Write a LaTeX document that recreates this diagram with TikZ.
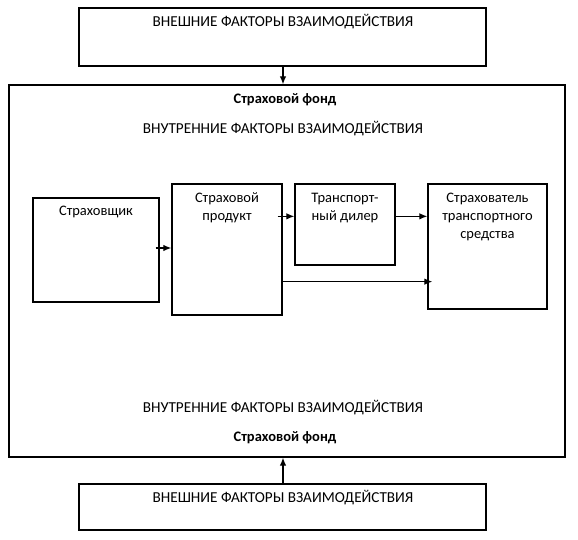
\documentclass[tikz,border=0pt]{standalone}
\usepackage{fontspec}
\setmainfont{Carlito}
\usetikzlibrary{arrows.meta}

\begin{document}
\begin{tikzpicture}[x=1pt,y=-1pt,
  box/.style={draw,line width=1.3pt,inner sep=0pt},
  lbl/.style={font=\fontsize{14.5}{18}\selectfont,align=center,inner sep=0pt},
  caps/.style={lbl,font=\fontsize{15.2}{18}\selectfont},
  arr/.style={line width=1.2pt,-{Latex[length=8pt,width=6.5pt]}}]
\path (0,0) rectangle (578,540);
\node[box,minimum width=407pt,minimum height=58pt] (extTop) at (282.5,37) {};
\node[box,minimum width=556pt,minimum height=372pt] (fund) at (287,271) {};
\node[box,minimum width=407pt,minimum height=46pt] (extBot) at (282.5,507) {};
\node[box,minimum width=126pt,minimum height=104pt] (insurer) at (96,250) {};
\node[box,minimum width=110pt,minimum height=131pt] (product) at (227,249.5) {};
\node[box,minimum width=100pt,minimum height=81pt] (dealer) at (345,224.5) {};
\node[box,minimum width=119pt,minimum height=125pt] (holder) at (487.5,246.5) {};
\node[caps] (extTopTxt) at (283,22) {ВНЕШНИЕ ФАКТОРЫ ВЗАИМОДЕЙСТВИЯ};
\node[caps] (extBotTxt) at (283,498) {ВНЕШНИЕ ФАКТОРЫ ВЗАИМОДЕЙСТВИЯ};
\node[lbl,font=\fontsize{14.5}{18}\selectfont\bfseries] (fundTop) at (285,100) {Страховой фонд};
\node[caps] (intTop) at (283,129) {ВНУТРЕННИЕ ФАКТОРЫ ВЗАИМОДЕЙСТВИЯ};
\node[caps] (intBot) at (283,408) {ВНУТРЕННИЕ ФАКТОРЫ ВЗАИМОДЕЙСТВИЯ};
\node[lbl,font=\fontsize{14.5}{18}\selectfont\bfseries] (fundBot) at (285,438) {Страховой фонд};
\node[lbl] (insurerTxt) at (96,212) {Страховщик};
\node[lbl] (productTxt) at (227,208) {Страховой\\продукт};
\node[lbl] (dealerTxt) at (345,208) {Транспорт-\\ный дилер};
\node[lbl] (holderTxt) at (487.5,217) {Страхователь\\транспортного\\средства};
\draw[arr] ([xshift=0.5pt]extTop.south) -- ([xshift=0.5pt]extTop.south |- fund.north);
\draw[arr] ([xshift=0.5pt]extBot.north) -- ([xshift=0.5pt]extBot.north |- fund.south);
\draw[arr] ([xshift=-4pt,yshift=2pt]insurer.east) -- ([yshift=2pt]insurer.east -| product.west);
\draw[arr] ([xshift=-5pt,yshift=-33pt]product.north east) -- ([yshift=-33pt]dealer.north west);
\draw[arr] ([yshift=-33pt]dealer.north east) -- ([yshift=-33pt]holder.north west);
\draw[arr] ([yshift=34pt]product.south east) -- ([xshift=5pt,yshift=28pt]holder.south west);
\end{tikzpicture}
\end{document}
